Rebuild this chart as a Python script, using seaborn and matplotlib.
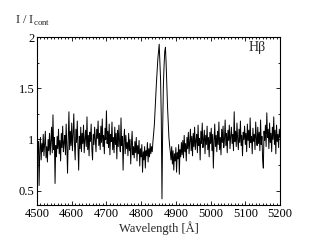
import numpy as np
import pandas as pd
import matplotlib
matplotlib.use("Agg")
import matplotlib.pyplot as plt
from matplotlib.ticker import MultipleLocator, FormatStrFormatter
import seaborn as sns

# ---- data (2 A sampling) ----
wave_start = 4500
wave_step = 2

flux = [
    # 4500 - 4818
    1.18, 0.86, 0.98, 0.55, 0.90, 1.02, 0.80, 0.96, 0.88, 1.05,
    0.84, 0.97, 1.08, 0.82, 0.93, 0.78, 1.00, 0.89, 1.06, 0.85,
    0.98, 1.12, 0.87, 1.24, 0.90, 1.02, 0.57, 0.94, 0.83, 1.03,
    0.91, 1.10, 0.86, 0.99, 0.79, 1.06, 0.92, 1.13, 0.88, 0.97,
    1.04, 0.85, 1.15, 0.93, 0.67, 1.01, 1.27, 0.90, 1.08, 0.94,
    1.16, 0.89, 1.05, 1.25, 0.95, 0.80, 1.10, 0.97, 1.18, 0.92,
    0.70, 1.03, 0.91, 1.12, 0.88, 1.06, 0.96, 1.14, 0.87, 1.00,
    1.09, 0.93, 1.22, 0.90, 1.04, 0.84, 1.07, 0.98, 1.15, 0.91,
    0.80, 1.05, 0.95, 1.12, 0.99, 0.88, 1.10, 1.01, 1.18, 0.94,
    1.06, 0.90, 1.13, 0.97, 1.20, 0.93, 1.04, 0.86, 1.11, 1.00,
    1.28, 0.96, 1.08, 0.92, 1.15, 0.85, 1.05, 0.98, 1.17, 0.90,
    1.02, 0.87, 1.12, 0.95, 1.06, 0.81, 1.09, 0.93, 1.14, 0.96,
    0.88, 1.21, 0.94, 1.03, 0.70, 0.99, 1.10, 0.86, 1.04, 0.91,
    0.97, 0.84, 1.06, 0.89, 1.00, 0.76, 0.95, 1.08, 0.85, 0.93,
    0.82, 0.98, 0.87, 1.02, 0.79, 0.94, 0.86, 0.99, 0.74, 0.91,
    0.83, 0.95, 0.68, 0.88, 0.80, 0.93, 0.72, 0.89, 0.84, 0.97,
    # 4820 - 4832
    0.78, 0.91, 0.83, 0.96, 0.86, 0.93, 0.88,
    # H-beta line 4834 - 4884
    0.98, 1.06, 1.14, 1.28, 1.40, 1.55, 1.66, 1.78, 1.86, 1.93,
    1.76, 1.58, 1.22, 0.42, 1.10, 1.52, 1.72, 1.86, 1.90, 1.74,
    1.52, 1.32, 1.16, 1.02, 0.94, 0.88,
    # 4886 - 4898
    0.80, 0.93, 0.76, 0.89, 0.70, 0.86, 0.79,
    # 4900 - 5198
    0.92, 0.68, 0.87, 0.81, 0.95, 0.66, 0.90, 0.83, 0.97, 0.85,
    0.99, 0.82, 1.04, 0.88, 0.96, 0.79, 1.02, 0.91, 1.07, 0.86,
    0.98, 1.10, 0.89, 1.03, 0.84, 1.06, 0.93, 1.12, 0.90, 0.99,
    1.05, 0.87, 1.14, 0.94, 1.01, 0.80, 1.08, 0.96, 1.16, 0.92,
    0.99, 1.09, 0.86, 1.04, 0.95, 1.13, 0.90, 1.02, 0.83, 1.07,
    0.96, 1.11, 0.89, 1.05, 0.72, 0.98, 1.15, 0.93, 1.04, 0.88,
    1.08, 0.95, 1.17, 0.90, 1.02, 0.85, 1.10, 0.97, 1.13, 0.92,
    1.00, 1.19, 0.94, 1.06, 0.87, 1.09, 0.99, 1.14, 0.91, 1.03,
    1.12, 0.96, 1.05, 0.89, 1.27, 0.98, 1.08, 0.93, 1.16, 1.00,
    0.90, 1.10, 0.97, 1.18, 0.94, 1.04, 0.84, 1.07, 1.00, 1.13,
    0.95, 1.06, 0.88, 1.15, 0.99, 1.09, 0.92, 1.21, 0.97, 1.03,
    0.86, 1.11, 0.98, 1.05, 0.90, 1.17, 1.01, 0.94, 1.12, 0.96,
    1.07, 0.89, 1.19, 0.95, 1.03, 0.80, 0.72, 1.08, 0.99, 1.14,
    0.93, 1.26, 1.02, 1.10, 0.91, 1.16, 0.97, 1.06, 0.88, 1.12,
    1.00, 1.22, 0.95, 1.09, 0.86, 1.14, 0.98, 1.05, 0.92, 1.10,
    # 5200
    1.02,
]

wavelength = wave_start + wave_step * np.arange(len(flux))
df = pd.DataFrame({"wavelength": wavelength, "flux": flux})

xticks = [4500, 4600, 4700, 4800, 4900, 5000, 5100, 5200]
yticks = [0.5, 1.0, 1.5, 2.0]

# ---- style ----
sns.set_style("ticks")
plt.rcParams["font.family"] = ["Liberation Serif", "DejaVu Serif"]
plt.rcParams["mathtext.fontset"] = "custom"
plt.rcParams["mathtext.rm"] = "Liberation Serif"

fig = plt.figure(figsize=(3.16, 2.44), dpi=100)
ax = fig.add_axes([37 / 316, 1 - 205 / 244, 243 / 316, 168 / 244])

sns.lineplot(data=df, x="wavelength", y="flux", ax=ax,
             color="black", linewidth=0.7, estimator=None, sort=False)

ax.set_xlim(4500, 5200)
ax.set_ylim(0.36, 2.0)
ax.set_xticks(xticks)
ax.set_yticks(yticks)
ax.xaxis.set_minor_locator(MultipleLocator(10))
ax.yaxis.set_minor_locator(MultipleLocator(0.25))
ax.yaxis.set_major_formatter(FormatStrFormatter("%g"))

ax.tick_params(which="both", direction="in", top=True, right=True,
               labelsize=9, pad=2, width=0.6, colors="black")
ax.tick_params(which="major", length=3)
ax.tick_params(which="minor", length=1.5)
for sp in ax.spines.values():
    sp.set_linewidth(0.8)
    sp.set_color("black")

ax.set_xlabel("Wavelength [Å]", fontsize=9, labelpad=1)
ax.set_ylabel("")
fig.text(15 / 316, 1 - 21 / 244, r"I / I$_\mathrm{cont}$", fontsize=9,
         ha="left", va="center")
ax.text(0.87, 0.935, "Hβ", transform=ax.transAxes, fontsize=10,
        ha="left", va="center")

fig.savefig("out.png", dpi=100)
